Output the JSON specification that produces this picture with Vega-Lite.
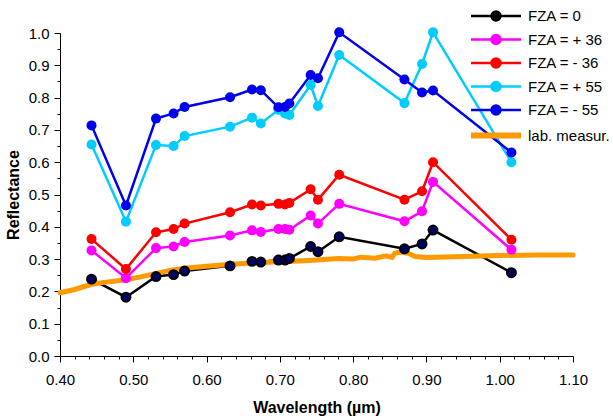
{
  "$schema": "https://vega.github.io/schema/vega-lite/v6.json",
  "width": 513,
  "height": 323,
  "autosize": "none",
  "padding": {"left": 60, "top": 33, "right": 40, "bottom": 63},
  "background": "white",
  "config": {
    "view": {"stroke": null},
    "font": "Liberation Sans",
    "axis": {"grid": false, "domainColor": "black", "tickColor": "black", "labelColor": "black", "titleColor": "black", "labelFont": "Liberation Sans", "titleFont": "Liberation Sans", "labelFontSize": 15, "titleFontSize": 16, "titleFontWeight": "bold", "domainWidth": 1, "tickWidth": 1, "labelFlush": false}
  },
  "datasets": {
    "fza": [
      {"series": "FZA = 0", "wl": 0.443, "r": 0.238}, {"series": "FZA = 0", "wl": 0.490, "r": 0.182}, {"series": "FZA = 0", "wl": 0.531, "r": 0.246}, {"series": "FZA = 0", "wl": 0.555, "r": 0.252}, {"series": "FZA = 0", "wl": 0.570, "r": 0.263}, {"series": "FZA = 0", "wl": 0.632, "r": 0.279}, {"series": "FZA = 0", "wl": 0.662, "r": 0.293}, {"series": "FZA = 0", "wl": 0.674, "r": 0.291}, {"series": "FZA = 0", "wl": 0.698, "r": 0.297}, {"series": "FZA = 0", "wl": 0.707, "r": 0.297}, {"series": "FZA = 0", "wl": 0.713, "r": 0.302}, {"series": "FZA = 0", "wl": 0.742, "r": 0.339}, {"series": "FZA = 0", "wl": 0.752, "r": 0.323}, {"series": "FZA = 0", "wl": 0.781, "r": 0.369}, {"series": "FZA = 0", "wl": 0.870, "r": 0.332}, {"series": "FZA = 0", "wl": 0.894, "r": 0.347}, {"series": "FZA = 0", "wl": 0.909, "r": 0.390}, {"series": "FZA = 0", "wl": 1.016, "r": 0.258},
      {"series": "FZA = + 36", "wl": 0.443, "r": 0.327}, {"series": "FZA = + 36", "wl": 0.490, "r": 0.241}, {"series": "FZA = + 36", "wl": 0.531, "r": 0.334}, {"series": "FZA = + 36", "wl": 0.555, "r": 0.339}, {"series": "FZA = + 36", "wl": 0.570, "r": 0.353}, {"series": "FZA = + 36", "wl": 0.632, "r": 0.373}, {"series": "FZA = + 36", "wl": 0.662, "r": 0.389}, {"series": "FZA = + 36", "wl": 0.674, "r": 0.384}, {"series": "FZA = + 36", "wl": 0.698, "r": 0.393}, {"series": "FZA = + 36", "wl": 0.707, "r": 0.393}, {"series": "FZA = + 36", "wl": 0.713, "r": 0.391}, {"series": "FZA = + 36", "wl": 0.742, "r": 0.435}, {"series": "FZA = + 36", "wl": 0.752, "r": 0.410}, {"series": "FZA = + 36", "wl": 0.781, "r": 0.471}, {"series": "FZA = + 36", "wl": 0.870, "r": 0.417}, {"series": "FZA = + 36", "wl": 0.894, "r": 0.448}, {"series": "FZA = + 36", "wl": 0.909, "r": 0.539}, {"series": "FZA = + 36", "wl": 1.016, "r": 0.329},
      {"series": "FZA = - 36", "wl": 0.443, "r": 0.362}, {"series": "FZA = - 36", "wl": 0.490, "r": 0.269}, {"series": "FZA = - 36", "wl": 0.531, "r": 0.383}, {"series": "FZA = - 36", "wl": 0.555, "r": 0.393}, {"series": "FZA = - 36", "wl": 0.570, "r": 0.410}, {"series": "FZA = - 36", "wl": 0.632, "r": 0.445}, {"series": "FZA = - 36", "wl": 0.662, "r": 0.469}, {"series": "FZA = - 36", "wl": 0.674, "r": 0.466}, {"series": "FZA = - 36", "wl": 0.698, "r": 0.471}, {"series": "FZA = - 36", "wl": 0.707, "r": 0.469}, {"series": "FZA = - 36", "wl": 0.713, "r": 0.474}, {"series": "FZA = - 36", "wl": 0.742, "r": 0.516}, {"series": "FZA = - 36", "wl": 0.752, "r": 0.484}, {"series": "FZA = - 36", "wl": 0.781, "r": 0.561}, {"series": "FZA = - 36", "wl": 0.870, "r": 0.484}, {"series": "FZA = - 36", "wl": 0.894, "r": 0.510}, {"series": "FZA = - 36", "wl": 0.909, "r": 0.600}, {"series": "FZA = - 36", "wl": 1.016, "r": 0.360},
      {"series": "FZA = + 55", "wl": 0.443, "r": 0.655}, {"series": "FZA = + 55", "wl": 0.490, "r": 0.416}, {"series": "FZA = + 55", "wl": 0.531, "r": 0.653}, {"series": "FZA = + 55", "wl": 0.555, "r": 0.650}, {"series": "FZA = + 55", "wl": 0.570, "r": 0.681}, {"series": "FZA = + 55", "wl": 0.632, "r": 0.710}, {"series": "FZA = + 55", "wl": 0.662, "r": 0.738}, {"series": "FZA = + 55", "wl": 0.674, "r": 0.720}, {"series": "FZA = + 55", "wl": 0.698, "r": 0.762}, {"series": "FZA = + 55", "wl": 0.707, "r": 0.751}, {"series": "FZA = + 55", "wl": 0.713, "r": 0.746}, {"series": "FZA = + 55", "wl": 0.742, "r": 0.839}, {"series": "FZA = + 55", "wl": 0.752, "r": 0.774}, {"series": "FZA = + 55", "wl": 0.781, "r": 0.932}, {"series": "FZA = + 55", "wl": 0.870, "r": 0.783}, {"series": "FZA = + 55", "wl": 0.894, "r": 0.904}, {"series": "FZA = + 55", "wl": 0.909, "r": 1.002}, {"series": "FZA = + 55", "wl": 1.016, "r": 0.600},
      {"series": "FZA = - 55", "wl": 0.443, "r": 0.714}, {"series": "FZA = - 55", "wl": 0.490, "r": 0.466}, {"series": "FZA = - 55", "wl": 0.531, "r": 0.735}, {"series": "FZA = - 55", "wl": 0.555, "r": 0.751}, {"series": "FZA = - 55", "wl": 0.570, "r": 0.771}, {"series": "FZA = - 55", "wl": 0.632, "r": 0.801}, {"series": "FZA = - 55", "wl": 0.662, "r": 0.825}, {"series": "FZA = - 55", "wl": 0.674, "r": 0.823}, {"series": "FZA = - 55", "wl": 0.698, "r": 0.770}, {"series": "FZA = - 55", "wl": 0.707, "r": 0.771}, {"series": "FZA = - 55", "wl": 0.713, "r": 0.782}, {"series": "FZA = - 55", "wl": 0.742, "r": 0.870}, {"series": "FZA = - 55", "wl": 0.752, "r": 0.860}, {"series": "FZA = - 55", "wl": 0.781, "r": 1.002}, {"series": "FZA = - 55", "wl": 0.870, "r": 0.856}, {"series": "FZA = - 55", "wl": 0.894, "r": 0.816}, {"series": "FZA = - 55", "wl": 0.909, "r": 0.822}, {"series": "FZA = - 55", "wl": 1.016, "r": 0.630}
    ],
    "lab": [
      {"series": "lab. measur.", "wl": 0.400, "r": 0.196}, {"series": "lab. measur.", "wl": 0.420, "r": 0.206}, {"series": "lab. measur.", "wl": 0.443, "r": 0.222}, {"series": "lab. measur.", "wl": 0.460, "r": 0.228}, {"series": "lab. measur.", "wl": 0.490, "r": 0.236}, {"series": "lab. measur.", "wl": 0.510, "r": 0.245}, {"series": "lab. measur.", "wl": 0.530, "r": 0.255}, {"series": "lab. measur.", "wl": 0.550, "r": 0.265}, {"series": "lab. measur.", "wl": 0.570, "r": 0.272}, {"series": "lab. measur.", "wl": 0.600, "r": 0.278}, {"series": "lab. measur.", "wl": 0.630, "r": 0.283}, {"series": "lab. measur.", "wl": 0.660, "r": 0.288}, {"series": "lab. measur.", "wl": 0.700, "r": 0.292}, {"series": "lab. measur.", "wl": 0.740, "r": 0.296}, {"series": "lab. measur.", "wl": 0.780, "r": 0.302}, {"series": "lab. measur.", "wl": 0.800, "r": 0.300}, {"series": "lab. measur.", "wl": 0.810, "r": 0.306}, {"series": "lab. measur.", "wl": 0.830, "r": 0.303}, {"series": "lab. measur.", "wl": 0.845, "r": 0.310}, {"series": "lab. measur.", "wl": 0.853, "r": 0.305}, {"series": "lab. measur.", "wl": 0.857, "r": 0.318}, {"series": "lab. measur.", "wl": 0.865, "r": 0.322}, {"series": "lab. measur.", "wl": 0.875, "r": 0.318}, {"series": "lab. measur.", "wl": 0.885, "r": 0.308}, {"series": "lab. measur.", "wl": 0.900, "r": 0.305}, {"series": "lab. measur.", "wl": 0.950, "r": 0.308}, {"series": "lab. measur.", "wl": 1.000, "r": 0.311}, {"series": "lab. measur.", "wl": 1.050, "r": 0.313}, {"series": "lab. measur.", "wl": 1.100, "r": 0.313}
    ]
  },
  "encoding": {
    "x": {
      "field": "wl", "type": "quantitative",
      "scale": {"domain": [0.4, 1.1], "nice": false, "zero": false},
      "axis": {
        "title": "Wavelength (µm)",
        "values": [0.40, 0.42, 0.44, 0.46, 0.48, 0.50, 0.52, 0.54, 0.56, 0.58, 0.60, 0.62, 0.64, 0.66, 0.68, 0.70, 0.72, 0.74, 0.76, 0.78, 0.80, 0.82, 0.84, 0.86, 0.88, 0.90, 0.92, 0.94, 0.96, 0.98, 1.00, 1.02, 1.04, 1.06, 1.08, 1.10],
        "labelExpr": "abs(datum.value * 10 - round(datum.value * 10)) < 0.001 ? format(datum.value, '.2f') : ''",
        "tickSize": {"condition": {"test": "abs(datum.value * 10 - round(datum.value * 10)) < 0.001", "value": 6}, "value": 3},
        "labelFlush": false,
        "labelPadding": 10,
        "titlePadding": 12,
        "labelOverlap": false
      }
    },
    "y": {
      "field": "r", "type": "quantitative",
      "scale": {"domain": [0, 1], "nice": false},
      "axis": {
        "title": "Reflectance",
        "values": [0, 0.05, 0.1, 0.15, 0.2, 0.25, 0.3, 0.35, 0.4, 0.45, 0.5, 0.55, 0.6, 0.65, 0.7, 0.75, 0.8, 0.85, 0.9, 0.95, 1.0],
        "labelExpr": "abs(datum.value * 10 - round(datum.value * 10)) < 0.001 ? format(datum.value, '.1f') : ''",
        "tickSize": {"condition": {"test": "abs(datum.value * 10 - round(datum.value * 10)) < 0.001", "value": 6}, "value": 3},
        "labelFlush": false,
        "labelPadding": 5,
        "titlePadding": 7,
        "labelOverlap": false
      }
    }
  },
  "layer": [
    {
      "data": {"name": "fza"},
      "mark": {"type": "line", "strokeWidth": 2.5},
      "encoding": {
        "color": {
          "field": "series", "type": "nominal",
          "scale": {"domain": ["FZA = 0", "FZA = + 36", "FZA = - 36", "FZA = + 55", "FZA = - 55", "lab. measur."], "range": ["#000000", "#ff00ff", "#ff0000", "#00ccff", "#0000ee", "#ff9900"]},
          "legend": {
            "title": null,
            "orient": "none",
            "legendX": 411,
            "legendY": -25,
            "padding": 0,
            "labelFont": "Liberation Sans",
            "labelFontSize": 15,
            "labelColor": "black",
            "rowPadding": 3.5,
            "symbolStrokeWidth": 2.5,
            "encode": {
              "symbols": {
                "update": {
                  "x": {"value": 25},
                  "y": {"value": 8},
                  "shape": {"signal": "datum.value === 'lab. measur.' ? 'M-1,0H1' : 'M-1,0H1M-0.18,0A0.18,0.18 0 1,1 0.18,0A0.18,0.18 0 1,1 -0.18,0Z'"},
                  "size": {"value": 2500},
                  "fill": {"signal": "datum.value === 'FZA = 0' ? '#000066' : (datum.value === 'lab. measur.' ? 'transparent' : scale('color', datum.value))"},
                  "stroke": {"signal": "scale('color', datum.value)"},
                  "strokeWidth": {"signal": "datum.value === 'lab. measur.' ? 6 : 2.5"},
                  "opacity": {"value": 1},
                  "fillOpacity": {"value": 1},
                  "strokeOpacity": {"value": 1}
                }
              },
              "labels": {
                "update": {
                  "x": {"value": 57},
                  "y": {"value": 8},
                  "baseline": {"value": "middle"}
                }
              }
            }
          }
        },
        "strokeWidth": {"condition": {"test": "datum.series === 'FZA = 0'", "value": 2}, "value": 2.5}
      }
    },
    {
      "data": {"name": "lab"},
      "mark": {"type": "line", "strokeWidth": 5, "strokeCap": "round"},
      "encoding": {
        "color": {"field": "series", "type": "nominal"}
      }
    },
    {
      "data": {"name": "fza"},
      "transform": [{"filter": "datum.series !== 'FZA = 0'"}],
      "mark": {"type": "point", "filled": true, "size": 100, "opacity": 1},
      "encoding": {
        "color": {"field": "series", "type": "nominal"}
      }
    },
    {
      "data": {"name": "fza"},
      "transform": [{"filter": "datum.series === 'FZA = 0'"}],
      "mark": {"type": "point", "filled": true, "size": 80, "opacity": 1, "fill": "#000066", "stroke": "#000000", "strokeWidth": 2}
    }
  ]
}
